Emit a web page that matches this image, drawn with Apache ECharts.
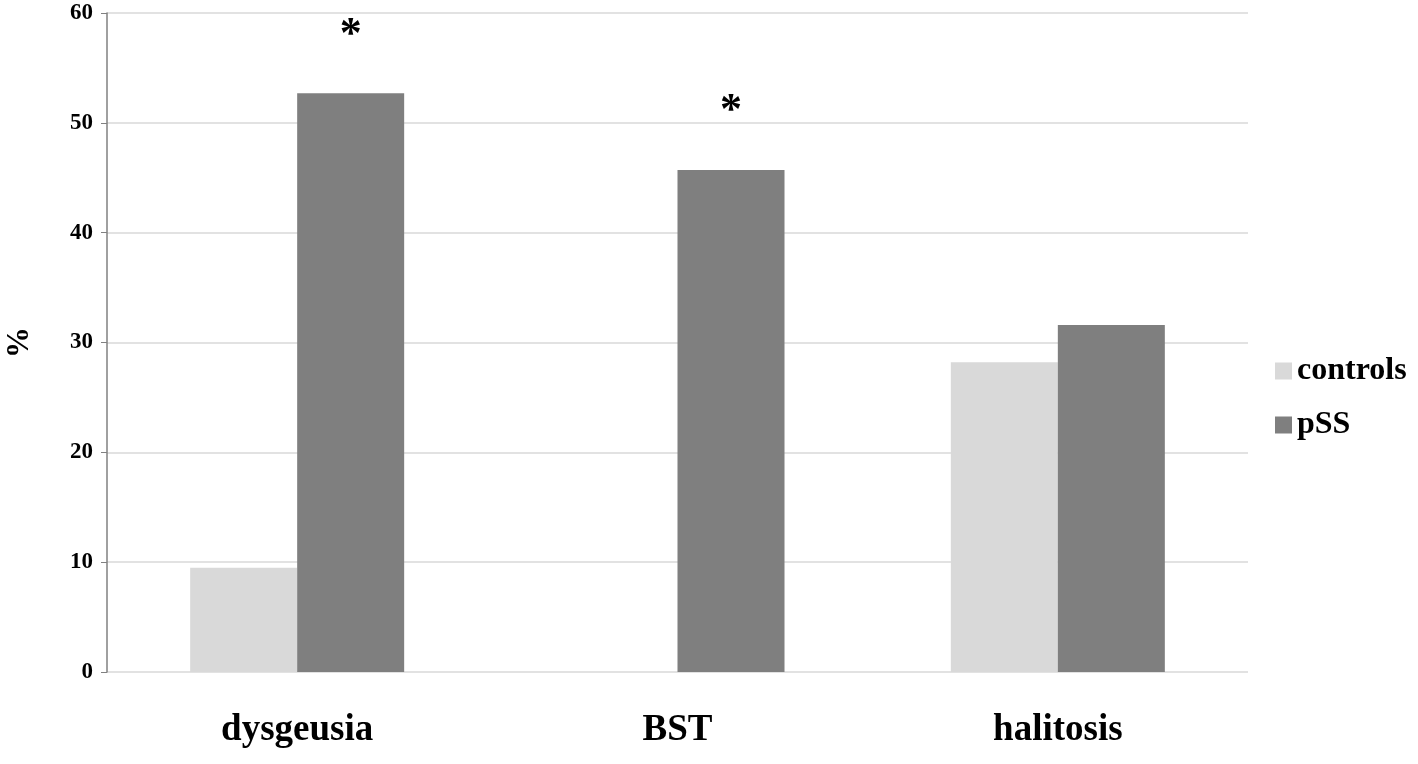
<!DOCTYPE html>
<html>
<head>
<meta charset="utf-8">
<style>
  html, body { margin: 0; padding: 0; background: #fff; }
  #chart { width: 1418px; height: 764px; }
</style>
<script src="https://cdn.jsdelivr.net/npm/echarts@6/dist/echarts.min.js"></script>
</head>
<body>
<div id="chart"></div>
<script>
// chart values
var categories = ['dysgeusia', 'BST', 'halitosis'];
var controls = [9.5, 0, 28.2];
var pss = [52.7, 45.7, 31.6];
var significant = ['*', '*', ''];

var serif = '"Liberation Serif", "DejaVu Serif", serif';

var chart = echarts.init(document.getElementById('chart'));

chart.setOption({
  animation: false,
  textStyle: { fontFamily: serif },
  grid: {
    left: 107,
    right: 170,
    top: 13,
    bottom: 92,
    outerBoundsMode: 'none'
  },
  legend: {
    orient: 'vertical',
    left: 1270,
    top: 350,
    icon: 'rect',
    itemWidth: 17,
    itemHeight: 17,
    itemGap: 22,
    textStyle: {
      fontFamily: serif,
      fontWeight: 'bold',
      fontSize: 32,
      color: '#000'
    },
    data: ['controls', 'pSS']
  },
  xAxis: {
    type: 'category',
    data: categories,
    axisLine: { show: false },
    axisTick: { show: false },
    axisLabel: {
      margin: 40,
      fontFamily: serif,
      fontWeight: 'bold',
      fontSize: 37,
      color: '#000'
    }
  },
  yAxis: {
    type: 'value',
    min: 0,
    max: 60,
    interval: 10,
    name: '%',
    nameLocation: 'middle',
    nameGap: 72,
    nameRotate: 90,
    nameTextStyle: {
      fontFamily: serif,
      fontWeight: 'bold',
      fontSize: 31,
      color: '#000'
    },
    axisLine: { show: true, lineStyle: { color: '#808080', width: 1.5 } },
    axisTick: { show: true, length: 6, lineStyle: { color: '#808080' } },
    axisLabel: {
      margin: 14,
      fontFamily: serif,
      fontWeight: 'bold',
      fontSize: 23,
      color: '#000'
    },
    splitLine: { lineStyle: { color: '#d9d9d9', width: 1.5 } }
  },
  series: [
    {
      name: 'controls',
      type: 'bar',
      data: controls,
      barWidth: 107,
      barGap: '0%',
      itemStyle: { color: '#d9d9d9' }
    },
    {
      name: 'pSS',
      type: 'bar',
      data: pss,
      barWidth: 107,
      barGap: '0%',
      itemStyle: { color: '#7f7f7f' },
      label: {
        show: true,
        position: 'top',
        distance: 36,
        formatter: function (p) { return significant[p.dataIndex]; },
        fontFamily: serif,
        fontWeight: 'bold',
        fontSize: 44,
        color: '#000'
      }
    }
  ]
});
</script>
</body>
</html>
